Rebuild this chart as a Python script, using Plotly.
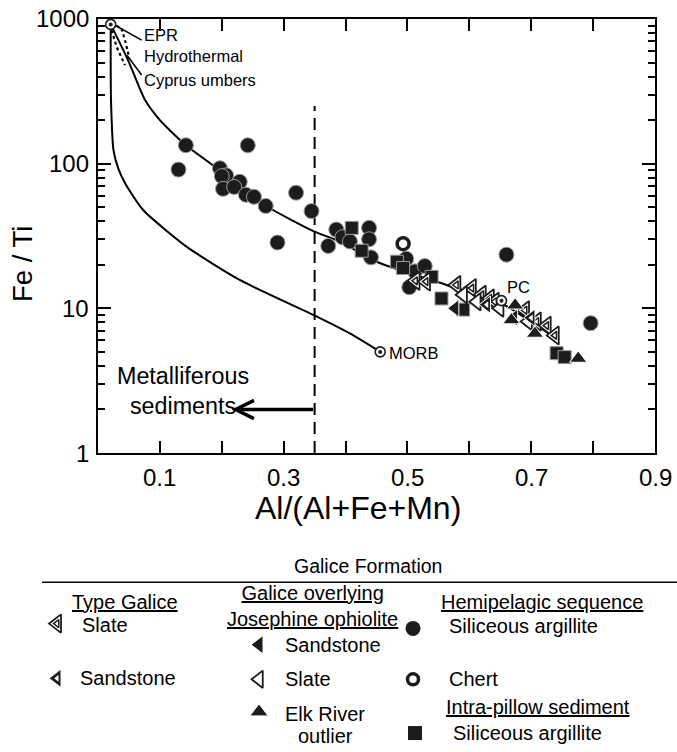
import math
import plotly.graph_objects as go

W, H = 677, 752
FONT = "Liberation Sans, Arial, Helvetica, sans-serif"

# plot box in page pixels
L, R, T, B = 98, 655, 19, 453

# ---------------- data ----------------
x_ticks = [0.1, 0.3, 0.5, 0.7, 0.9]
x_tick_text = ["0.1", "0.3", "0.5", "0.7", "0.9"]
y_ticks = [1, 10, 100, 1000]
y_tick_text = ["1", "10", "100", "1000"]

hemi_x = [0.130, 0.142, 0.242, 0.197, 0.207, 0.200, 0.229, 0.202, 0.220, 0.239, 0.252, 0.271,
          0.320, 0.345, 0.290, 0.372, 0.385, 0.395, 0.407, 0.438, 0.438, 0.441, 0.498, 0.512,
          0.528, 0.503, 0.660, 0.796]
hemi_y = [91, 134, 134, 93, 83, 82, 75, 67, 69, 61, 59, 51,
          63, 47, 28.5, 27, 35, 31, 29, 36, 30, 22.5, 22, 18,
          19.6, 14, 23.5, 7.9]
chert_x = [0.493]
chert_y = [28]
pillow_x = [0.410, 0.426, 0.483, 0.493, 0.539, 0.555, 0.590, 0.741, 0.754]
pillow_y = [36, 25, 21, 19, 16.5, 11.7, 9.8, 4.9, 4.6]
elk_x = [0.674, 0.706, 0.776, 0.668]
elk_y = [10.5, 6.7, 4.5, 8.3]
jos_sand_x = [0.577, 0.672]
jos_sand_y = [10.0, 8.6]
jos_slate_x = [0.590, 0.612, 0.649, 0.695]
jos_slate_y = [12.4, 11.1, 10.0, 8.1]
tg_slate_x = [0.513, 0.530, 0.579, 0.604, 0.620, 0.633, 0.641, 0.690, 0.709, 0.725, 0.738]
tg_slate_y = [15.5, 15.3, 14.5, 13.8, 12.4, 11.7, 11.1, 9.7, 8.1, 7.6, 6.5]
tg_sand_x = [0.628, 0.700]
tg_sand_y = [10.6, 8.6]

end_names = ["EPR", "MORB", "PC"]
end_x = [0.0205, 0.456, 0.652]
end_y = [918, 5.0, 11.3]

# mixing curves
upper_x = [0.0205, 0.0485, 0.076, 0.100, 0.142, 0.197, 0.272, 0.348, 0.391, 0.450, 0.563, 0.652, 0.740]
upper_y = [918, 520, 275, 200, 134, 90, 51, 34.2, 28.9, 21.0, 14.5, 10.8, 6.2]
lower_x = [0.0205, 0.0205, 0.021, 0.025, 0.033, 0.044, 0.073, 0.143, 0.229, 0.348, 0.407, 0.456]
lower_y = [918, 500, 275, 124, 92, 73, 47.8, 26.7, 15.7, 9.0, 6.7, 5.0]
dotA_x = [0.0205, 0.022, 0.030, 0.0436]
dotA_y = [918, 838, 643, 480]
dotB_x = [0.0205, 0.0275, 0.038, 0.045, 0.0506]
dotB_y = [918, 910, 861, 678, 534]
lead_epr_x = [0.0275, 0.0705]
lead_epr_y = [905, 715]
lead_cy_x = [0.047, 0.0705]
lead_cy_y = [560, 410]
dash_x = [0.35, 0.35]
dash_y = [1, 250]
metal_y = 2.0
metal_x0, metal_x1 = 0.35, 0.216

fig = go.Figure()

def line(x, y, width=2, dash=None, shape="linear"):
    fig.add_trace(go.Scatter(x=x, y=y, mode="lines", hoverinfo="skip", showlegend=False,
                             line=dict(color="black", width=width, dash=dash, shape=shape,
                                       smoothing=0.6 if shape == "spline" else None)))

line(upper_x, upper_y, 2, shape="spline")
line(lower_x, lower_y, 2, shape="spline")
line(dotA_x, dotA_y, 2.2, dash="dot")
line(dotB_x, dotB_y, 2.2, dash="dot")
line(lead_epr_x, lead_epr_y, 1.5)
line(lead_cy_x, lead_cy_y, 1.5)
line(dash_x, dash_y, 2, dash="12px,7px")

def pts(x, y, symbol, size, color, lcolor, lwidth, xa="x", ya="y"):
    fig.add_trace(go.Scatter(x=x, y=y, mode="markers", hoverinfo="skip", showlegend=False,
                             xaxis=xa, yaxis=ya,
                             marker=dict(symbol=symbol, size=size, color=color,
                                         line=dict(color=lcolor, width=lwidth))))

BLK = "#1c1c1c"
pts(hemi_x, hemi_y, "circle", 15, BLK, "#9a9a9a", 1)
pts(pillow_x, pillow_y, "square", 13, BLK, "#9a9a9a", 1)
pts(chert_x, chert_y, "circle", 12, "white", BLK, 3.5)
pts(tg_slate_x, tg_slate_y, "triangle-left", 16, "white", BLK, 1.8)
pts(tg_slate_x, tg_slate_y, "triangle-left", 7, "white", BLK, 1.5)
pts(jos_slate_x, jos_slate_y, "triangle-left", 15, "white", BLK, 1.8)
pts(jos_sand_x, jos_sand_y, "triangle-left", 15, BLK, "white", 1)
pts(tg_sand_x, tg_sand_y, "triangle-left", 15, BLK, "white", 1)
pts(tg_sand_x, tg_sand_y, "triangle-left", 5, "white", "white", 0.5)
pts(elk_x, elk_y, "triangle-up", 15, BLK, "white", 1)
pts(end_x, end_y, "circle", 10, "white", BLK, 1.6)
pts(end_x, end_y, "circle", 4, BLK, BLK, 0)

# ---------------- legend (pixel overlay axes) ----------------
def LY(y):   # legend rows, compressed slightly so the last row stays inside the page
    return 566 + (y - 566) * 0.96

leg_sym = [
    ("triangle-left", 16, "white", BLK, 1.8, 57, 626),
    ("triangle-left", 7, "white", BLK, 1.5, 57, 626),
    ("triangle-left", 16, BLK, "white", 1, 57, 683),
    ("triangle-left", 5, "white", "white", 0.5, 57, 683),
    ("triangle-left", 16, BLK, "white", 1, 259, 648),
    ("triangle-left", 15, "white", BLK, 1.8, 259, 684),
    ("triangle-up", 16, BLK, "white", 1, 259, 718),
    ("circle", 15, BLK, BLK, 0, 413, 631),
    ("circle", 11, "white", BLK, 3.5, 413, 684),
    ("square", 14, BLK, BLK, 0, 415, 740),
]
for s, sz, c, lc, lw, px, py in leg_sym:
    pts([px], [LY(py)], s, sz, c, lc, lw, xa="x2", ya="y2")

ann = []
def txt(text, x, y, size=20, xanchor="left", under=False):
    ann.append(dict(text=text, x=x, y=LY(y), xref="x2", yref="y2",
                    xanchor=xanchor, yanchor="middle", showarrow=False, align="center",
                    font=dict(family=FONT, size=size, color="black",
                              lineposition="under" if under else "none")))

txt("Galice Formation", 368, 566, 19.5, "center")
txt("Type Galice", 125, 603, 20, "center", True)
txt("Galice overlying<br>Josephine ophiolite", 312, 608, 20, "center", True)
txt("Hemipelagic sequence", 542, 603, 20, "center", True)
txt("Slate", 80, 627)
txt("Sandstone", 78, 683)
txt("Sandstone", 283, 648)
txt("Slate", 283, 684)
txt("Elk River", 325, 720, 20, "center")
txt("outlier", 325, 743, 20, "center")
txt("Siliceous argillite", 447, 629)
txt("Chert", 447, 684)
txt("Intra-pillow sediment", 538, 713, 20, "center", True)
txt("Siliceous argillite", 451, 740)

# tick labels (drawn as text at the axis tick positions)
for v, t in zip(x_ticks, x_tick_text):
    ann.append(dict(text=t, x=v, y=477, xref="x", yref="y2", showarrow=False,
                    xanchor="center", yanchor="middle",
                    font=dict(family=FONT, size=24, color="black")))
for v, t in zip(y_ticks, y_tick_text):
    ann.append(dict(text=t, x=91, y=math.log10(v), xref="x2", yref="y", showarrow=False,
                    xanchor="right", yanchor="middle",
                    font=dict(family=FONT, size=24, color="black")))

# axis titles
ann.append(dict(text="Al/(Al+Fe+Mn)", x=358, y=508, xref="x2", yref="y2",
                showarrow=False, font=dict(family=FONT, size=32, color="black")))
ann.append(dict(text="Fe / Ti", x=22, y=264, xref="x2", yref="y2", textangle=-90,
                showarrow=False, font=dict(family=FONT, size=27.5, color="black")))

# in-plot labels (data coordinates, log units for y)
def dtxt(text, x, ylog, size=16.5):
    ann.append(dict(text=text, x=x, y=ylog, xref="x", yref="y", xanchor="left",
                    yanchor="middle", showarrow=False,
                    font=dict(family=FONT, size=size, color="black")))

dtxt("EPR", 0.071, 2.889)
dtxt("Hydrothermal", 0.071, 2.744)
dtxt("Cyprus umbers", 0.071, 2.578)
dtxt("PC", 0.657, 1.147)
dtxt("MORB", 0.467, 0.689)
dtxt("Metalliferous<br>sediments", 0.027, 0.428, 23.3)

ann.append(dict(text="", x=metal_x1, y=math.log10(metal_y), ax=metal_x0, ay=math.log10(metal_y),
                xref="x", yref="y", axref="x", ayref="y", showarrow=True,
                arrowhead=5, arrowsize=1, arrowwidth=3.6, arrowcolor="black", standoff=0,
                startstandoff=0))

fig.update_layout(
    width=W, height=H, margin=dict(l=0, r=0, t=0, b=0, pad=0),
    paper_bgcolor="white", plot_bgcolor="rgba(0,0,0,0)",
    showlegend=False, annotations=ann,
    shapes=[dict(type="line", xref="x2", yref="y2", x0=42, x1=W, y0=LY(583), y1=LY(583),
                 line=dict(color="black", width=1.5))],
    font=dict(family=FONT, color="black"),
    xaxis=dict(domain=[L / W, R / W], range=[0, 0.9], anchor="y",
               tickvals=x_ticks, showticklabels=False,
               ticks="inside", ticklen=12, tickwidth=2, tickcolor="black",
               minor=dict(tickvals=[0.2, 0.4, 0.6, 0.8], ticks="inside", ticklen=12,
                          tickwidth=2, tickcolor="black", showgrid=False),
               showline=True, linewidth=2, linecolor="black", mirror="ticks",
               showgrid=False, zeroline=False),
    yaxis=dict(domain=[1 - B / H, 1 - T / H], type="log", range=[0, 3], anchor="x",
               tickvals=y_ticks, showticklabels=False,
               ticks="inside", ticklen=13, tickwidth=2, tickcolor="black",
               minor=dict(dtick="D1", ticks="inside", ticklen=7, tickwidth=1.5,
                          tickcolor="black", showgrid=False),
               showline=True, linewidth=2, linecolor="black", mirror="ticks",
               showgrid=False, zeroline=False),
    xaxis2=dict(domain=[0, 1], range=[0, W], visible=False, anchor="y2", fixedrange=True),
    yaxis2=dict(domain=[0, 1], range=[H, 0], visible=False, anchor="x2", fixedrange=True),
)

fig.write_html("out.html", config={"displayModeBar": False})
